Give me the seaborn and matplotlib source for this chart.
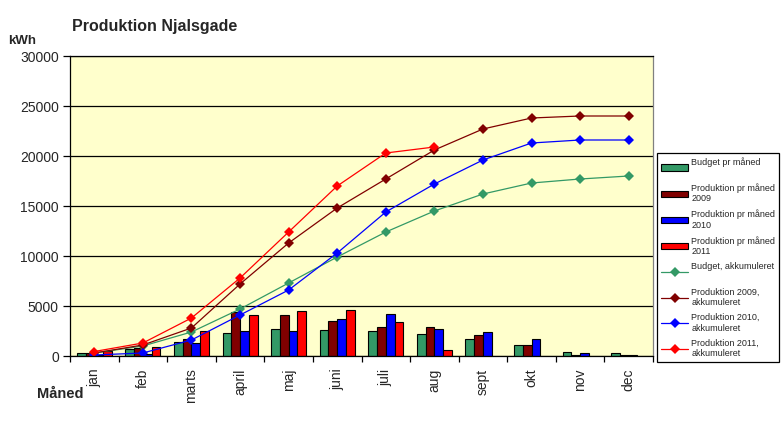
import pandas as pd
import numpy as np
import matplotlib
matplotlib.use("Agg")
import matplotlib.pyplot as plt
import seaborn as sns
from matplotlib.patches import Patch
from matplotlib.lines import Line2D
from matplotlib.ticker import FixedLocator, NullFormatter

# data
maaneder = ["jan", "feb", "marts", "april", "maj", "juni",
            "juli", "aug", "sept", "okt", "nov", "dec"]

budget_md = [300, 700, 1400, 2300, 2700, 2600, 2500, 2200, 1700, 1100, 430, 300]
prod2009_md = [300, 830, 1700, 4430, 4130, 3530, 2900, 2900, 2100, 1100, 100, 100]
prod2010_md = [150, 170, 1330, 2530, 2530, 3730, 4230, 2700, 2400, 1700, 300, 100]
prod2011_md = [470, 900, 2530, 4130, 4530, 4600, 3400, 600, np.nan, np.nan, np.nan, np.nan]

budget_akk = [300, 1000, 2400, 4700, 7300, 9900, 12400, 14500, 16200, 17300, 17700, 18000]
prod2009_akk = [300, 1100, 2800, 7200, 11300, 14800, 17700, 20600, 22700, 23800, 24000, 24000]
prod2010_akk = [100, 300, 1600, 4100, 6600, 10300, 14400, 17200, 19600, 21300, 21600, 21600]
prod2011_akk = [450, 1300, 3800, 7800, 12400, 17000, 20300, 20900, np.nan, np.nan, np.nan, np.nan]

bar_navne = ["Budget pr måned\n ", "Produktion pr måned\n2009",
             "Produktion pr måned\n2010", "Produktion pr måned\n2011"]
linje_navne = ["Budget, akkumuleret\n ", "Produktion 2009,\nakkumuleret",
               "Produktion 2010,\nakkumuleret", "Produktion 2011,\nakkumuleret"]
bar_farver = ["#339966", "#800000", "#0000FF", "#FF0000"]
linje_farver = ["#339966", "#800000", "#0000FF", "#FF0000"]

bars = pd.DataFrame({"måned": maaneder * 4,
                     "serie": np.repeat(bar_navne, 12),
                     "kWh": budget_md + prod2009_md + prod2010_md + prod2011_md})
linjer = pd.DataFrame({"pos": list(range(12)) * 4,
                       "serie": np.repeat(linje_navne, 12),
                       "kWh": budget_akk + prod2009_akk + prod2010_akk + prod2011_akk}).dropna()

sns.set_style("white")
plt.rcParams["font.family"] = ["Liberation Sans", "DejaVu Sans"]

fig = plt.figure(figsize=(7.84, 4.36), dpi=100)
ax = fig.add_axes([70 / 784, 1 - 356 / 436, 583 / 784, 300 / 436])
ax.set_facecolor("#FFFFCC")

sns.barplot(data=bars, x="måned", y="kWh", hue="serie", order=maaneder,
            hue_order=bar_navne, palette=bar_farver, width=0.72,
            edgecolor="black", linewidth=0.8, saturation=1, legend=False, ax=ax)
sns.lineplot(data=linjer, x="pos", y="kWh", hue="serie", hue_order=linje_navne,
             palette=linje_farver, marker="D", markersize=5, markeredgewidth=0,
             linewidth=0.9, legend=False, ax=ax)

ax.set_xlim(-0.5, 11.5)
ax.set_ylim(0, 30000)
ax.set_yticks(range(0, 30001, 5000))
ax.yaxis.grid(True, color="black", linewidth=0.9)
ax.set_axisbelow(True)
ax.set_xticks(range(12))
ax.set_xticklabels(maaneder, rotation=90, fontsize=10)
ax.xaxis.set_minor_locator(FixedLocator(np.arange(-0.5, 12, 1)))
ax.xaxis.set_minor_formatter(NullFormatter())
ax.tick_params(axis="x", which="major", length=0, pad=9)
ax.tick_params(axis="x", which="minor", length=4, width=0.9, color="black", bottom=True)
ax.tick_params(axis="y", length=5, width=0.9, color="black", left=True, labelsize=10, pad=3)
ax.set_xlabel("")
ax.set_ylabel("")
for s in ax.spines.values():
    s.set_color("black")
    s.set_linewidth(0.9)
ax.spines["right"].set_color("#808080")

fig.text(72 / 784, 1 - 31 / 436, "Produktion Njalsgade", fontsize=11.5,
         fontweight="bold", va="baseline")
fig.text(8 / 784, 1 - 44 / 436, "kWh", fontsize=9.5, fontweight="bold", va="baseline")
fig.text(37 / 784, 1 - 398 / 436, "Måned", fontsize=10.5, fontweight="bold", va="baseline")

handles = [Patch(facecolor=c, edgecolor="black", linewidth=0.8) for c in bar_farver]
handles += [Line2D([0], [0], color=c, marker="D", markersize=5, markeredgewidth=0,
                   linewidth=0.9) for c in linje_farver]
leg = fig.legend(handles, bar_navne + linje_navne, loc="upper left",
                 bbox_to_anchor=(657 / 784, 1 - 153 / 436), fontsize=6.5,
                 frameon=True, fancybox=False, framealpha=1, edgecolor="black",
                 borderpad=0.45, labelspacing=0.68, handlelength=3.0,
                 handletextpad=0.35, numpoints=1, borderaxespad=0)
leg.get_frame().set_linewidth(0.9)

plt.savefig("out.png", dpi=100)
plt.close()
